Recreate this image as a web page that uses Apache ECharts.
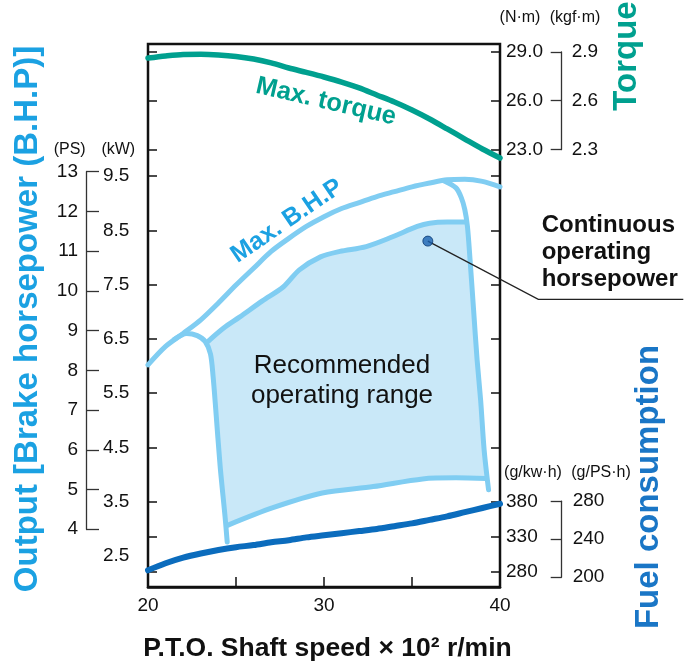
<!DOCTYPE html>
<html>
<head>
<meta charset="utf-8">
<script src="https://cdn.jsdelivr.net/npm/echarts/dist/echarts.min.js"></script>
<style>html,body{margin:0;padding:0;background:#fff}#c{width:700px;height:665px}</style>
</head>
<body>
<div id="c"></div>
<script>
// ---------- data ----------
const speed      = [20,21,22,23,24,25,26,27,28,29,30,31,32,33,34,35,36,37,38,39,40];
const torqueNm   = [28.61,28.74,28.83,28.84,28.80,28.71,28.55,28.31,28.00,27.73,27.45,27.14,26.78,26.35,25.92,25.43,24.88,24.27,23.65,23.04,22.49];
const fuelGkwh   = [282,292,300,306,311,315,318,322,325,329,332,335,338,341,345,349,354,359,365,371,377];
const bhpMaxKw   = [6.02,6.36,6.60,6.85,7.16,7.49,7.80,8.11,8.35,8.57,8.75,8.90,9.01,9.12,9.21,9.30,9.37,9.43,9.44,9.40,9.30];
// [speed, kW] pairs
const governor   = [[36.8,9.41],[37.5,9.28],[37.8,9.10],[38.0,8.88],[38.15,8.57],[38.3,7.95],[38.5,7.03],[38.7,6.11],[38.9,5.37],[39.1,4.45],[39.35,3.72]];
const rangeTop   = [[23.4,6.45],[24.3,6.70],[25.2,6.90],[26.5,7.20],[27.7,7.46],[28.6,7.77],[29.8,8.01],[30.9,8.11],[32.4,8.20],[33.9,8.38],[35.3,8.57],[36.0,8.63],[37.0,8.65],[38.1,8.65]];
const rangeBottom= [[24.55,3.07],[27.1,3.39],[29.9,3.66],[32.8,3.78],[35.6,3.92],[37.5,3.94],[39.2,3.93]];
const rangeLeft  = [[21.5,6.49],[22.2,6.60],[22.8,6.56],[23.25,6.45],[23.55,6.22],[23.7,5.80],[23.85,5.20],[24.1,4.15],[24.38,3.22],[24.5,2.76]];
const contPoint  = [35.9, 8.30];
// tick labels
const xTicks     = [20,30,40];
const psTicks    = [4,5,6,7,8,9,10,11,12,13];
const kwTicks    = [2.5,3.5,4.5,5.5,6.5,7.5,8.5,9.5];
const kwInner    = [3.5,4.5,5.5,6.5,7.5,8.5,9.5];
const nmTicks    = [23,26,29];
const kgfTicks   = [2.3,2.6,2.9];
const gkwhTicks  = [280,330,380];
const gpshTicks  = [200,240,280];

// ---------- styles ----------
const F = '"Liberation Sans", Arial, Helvetica, sans-serif';
const BLACK = '#111';
const TEAL = '#00a08f';
const LBLUE = '#80cdf2';
const FILL = '#c9e8f8';
const SKY = '#1ba1e2';
const FUEL = '#0b6cbd';

const zipXY = (xs, ys) => xs.map((x, i) => [x, ys[i]]);
const step = a => +(a[1] - a[0]).toFixed(6);

// polygon of recommended range, built from the boundary arrays
const topEnd = rangeTop[rangeTop.length - 1][1];
const botEnd = rangeBottom[rangeBottom.length - 1][1];
const topStart = rangeTop[0][1];
const botStart = rangeBottom[0][1];
const fillPoly = rangeTop.concat(
  governor.filter(p => p[1] < topEnd && p[1] > botEnd),
  rangeBottom.slice().reverse(),
  rangeLeft.filter(p => p[1] > botStart && p[1] < topStart).reverse()
);

function tickAxis(grid, pos, ticks, showLabel, fmt, margin) {
  return {
    type: 'value', gridIndex: grid, position: pos,
    min: ticks[0], max: ticks[ticks.length - 1], interval: step(ticks),
    axisLine: {show: false, onZero: false},
    axisTick: {show: true, inside: true, length: 9, lineStyle: {color: BLACK, width: 1.5}},
    axisLabel: {show: showLabel, formatter: fmt, margin: margin || 6, color: BLACK, fontSize: 19, fontFamily: F},
    splitLine: {show: false}
  };
}
function bracketAxis(grid, pos, ticks, fmt, margin, len) {
  return {
    type: 'value', gridIndex: grid, position: pos,
    min: ticks[0], max: ticks[ticks.length - 1], interval: step(ticks),
    axisLine: {show: true, onZero: false, lineStyle: {color: '#333', width: 1.3}},
    axisTick: {show: true, inside: true, length: len, lineStyle: {color: '#333', width: 1.3}},
    axisLabel: {formatter: fmt, margin: margin, color: BLACK, fontSize: 19, fontFamily: F},
    splitLine: {show: false}
  };
}
const hiddenX = g => ({type: 'value', gridIndex: g, show: false, min: 0, max: 1, axisLine: {onZero: false}});
const lineS = (data, color, width, yIdx, z) => ({
  type: 'line', data, xAxisIndex: 0, yAxisIndex: yIdx, smooth: 0.3, showSymbol: false, symbol: 'none',
  clip: false, silent: true, z: z,
  lineStyle: {color, width, cap: 'round', join: 'round'}
});
const txt = (x, y, text, font, fill, o) => {
  o = o || {};
  return {type: 'text', x, y, rotation: o.rot || 0, silent: true, z: 100,
    style: {text, font, fill, textAlign: o.align || 'center', textVerticalAlign: 'middle', verticalAlign: 'middle', lineHeight: o.lh}};
};

const chart = echarts.init(document.getElementById('c'));
chart.setOption({
  animation: false,
  backgroundColor: '#fff',
  grid: [
    {left: 148, top: 44, width: 352, height: 543, show: true, borderColor: BLACK, borderWidth: 2.5, backgroundColor: 'transparent'}, // 0 main
    {left: 148, top: 51.7, width: 352, height: 97.8},   // 1 torque ticks
    {left: 148, top: 176, width: 352, height: 325.7},   // 2 kW inner ticks
    {left: 148, top: 501.7, width: 352, height: 70},    // 3 fuel ticks
    {left: 86, top: 171.7, width: 10, height: 357.5},   // 4 PS bracket
    {left: 101, top: 176, width: 10, height: 380},      // 5 kW labels
    {left: 540, top: 52, width: 21.7, height: 97.5},    // 6 kgf·m bracket
    {left: 540, top: 501.2, width: 21.7, height: 76}    // 7 g/PS·h bracket
  ],
  xAxis: [
    {type: 'value', gridIndex: 0, min: xTicks[0], max: xTicks[xTicks.length - 1], interval: step(xTicks),
      axisLine: {show: true, onZero: false, lineStyle: {color: BLACK, width: 2.5}},
      axisTick: {inside: true, length: 10, lineStyle: {color: BLACK, width: 1.5}},
      minorTick: {show: true, splitNumber: 2, length: 10, lineStyle: {color: BLACK, width: 1.5}},
      axisLabel: {margin: 9, fontSize: 19, color: BLACK, fontFamily: F},
      splitLine: {show: false}, minorSplitLine: {show: false}},
    hiddenX(1), hiddenX(2), hiddenX(3), hiddenX(4), hiddenX(5), hiddenX(6), hiddenX(7)
  ],
  yAxis: [
    {type: 'value', gridIndex: 0, show: false, min: 1.93, max: 11.93, axisLine: {onZero: false}},     // 0 kW
    {type: 'value', gridIndex: 0, show: false, min: -3.78, max: 29.47, axisLine: {onZero: false}},    // 1 torque
    {type: 'value', gridIndex: 0, show: false, min: 258.1, max: 1033.9, axisLine: {onZero: false}},   // 2 fuel
    tickAxis(1, 'left', nmTicks, false),
    tickAxis(1, 'right', nmTicks, true, v => v.toFixed(1), 6),
    tickAxis(2, 'left', kwInner, false),
    tickAxis(2, 'right', kwInner, false),
    tickAxis(3, 'left', gkwhTicks, false),
    tickAxis(3, 'right', gkwhTicks, true, v => String(v), 6),
    bracketAxis(4, 'left', psTicks, v => String(v), 8, 13),
    {type: 'value', gridIndex: 5, position: 'left', min: kwTicks[0], max: kwTicks[kwTicks.length - 1], interval: step(kwTicks),
      axisLine: {show: false, onZero: false}, axisTick: {show: false}, splitLine: {show: false},
      axisLabel: {inside: true, margin: 2, color: BLACK, fontSize: 19, fontFamily: F, formatter: v => v.toFixed(1)}},
    bracketAxis(6, 'right', kgfTicks, v => v.toFixed(1), 10, 11),
    bracketAxis(7, 'right', gpshTicks, v => String(v), 11, 11)
  ],
  series: [
    {type: 'custom', xAxisIndex: 0, yAxisIndex: 0, data: fillPoly, silent: true, z: 1,
      encode: {x: 0, y: 1},
      renderItem: (params, api) => {
        if (params.dataIndex !== 0) return null;
        return {type: 'polygon', shape: {points: fillPoly.map(p => api.coord(p))}, style: {fill: FILL}};
      }},
    lineS(zipXY(speed, bhpMaxKw), LBLUE, 5, 0, 3),
    lineS(governor, LBLUE, 5, 0, 3),
    lineS(rangeTop, LBLUE, 5, 0, 3),
    lineS(rangeBottom, LBLUE, 5, 0, 3),
    lineS(rangeLeft, LBLUE, 5, 0, 3),
    lineS(zipXY(speed, torqueNm), TEAL, 5.5, 1, 4),
    lineS(zipXY(speed, fuelGkwh), FUEL, 6, 2, 4),
    {type: 'custom', xAxisIndex: 0, yAxisIndex: 0, data: [contPoint], silent: true, z: 5,
      encode: {x: 0, y: 1},
      renderItem: (params, api) => {
        const p = api.coord([api.value(0), api.value(1)]);
        return {type: 'polyline', shape: {points: [p, [538.3, 299.3], [683.3, 299.3]]},
          style: {stroke: '#222', lineWidth: 1.3, fill: null}};
      }},
    {type: 'scatter', xAxisIndex: 0, yAxisIndex: 0, data: [contPoint], symbolSize: 10, silent: true, z: 6,
      itemStyle: {color: '#1a62b0', borderColor: '#0b3a70', borderWidth: 1}}
  ],
  graphic: [
    txt(28, 319, 'Output [Brake horsepower (B.H.P)]', 'bold 33px ' + F, SKY, {rot: Math.PI / 2}),
    txt(627, 56, 'Torque', 'bold 33px ' + F, TEAL, {rot: Math.PI / 2}),
    txt(649, 487, 'Fuel consumption', 'bold 33px ' + F, '#1a76c6', {rot: Math.PI / 2}),
    txt(327.5, 649, 'P.T.O. Shaft speed × 10² r/min', 'bold 26.5px ' + F, BLACK),
    txt(69.7, 149.7, '(PS)', '16px ' + F, BLACK),
    txt(118.3, 149.7, '(kW)', '16px ' + F, BLACK),
    txt(520, 18, '(N·m)', '16px ' + F, BLACK),
    txt(575, 18, '(kgf·m)', '16px ' + F, BLACK),
    txt(533, 473, '(g/kw·h)', '16px ' + F, BLACK),
    txt(601, 473, '(g/PS·h)', '16px ' + F, BLACK),
    txt(326, 101.7, 'Max. torque', 'bold 25.5px ' + F, TEAL, {rot: -0.227}),
    txt(287, 221, 'Max. B.H.P', 'bold 25px ' + F, SKY, {rot: 0.6}),
    txt(342, 381, 'Recommended\noperating range', '26px ' + F, BLACK, {lh: 30}),
    txt(541.7, 252.6, 'Continuous\noperating\nhorsepower', 'bold 24px ' + F, BLACK, {align: 'left', lh: 27})
  ]
});
</script>
</body>
</html>
